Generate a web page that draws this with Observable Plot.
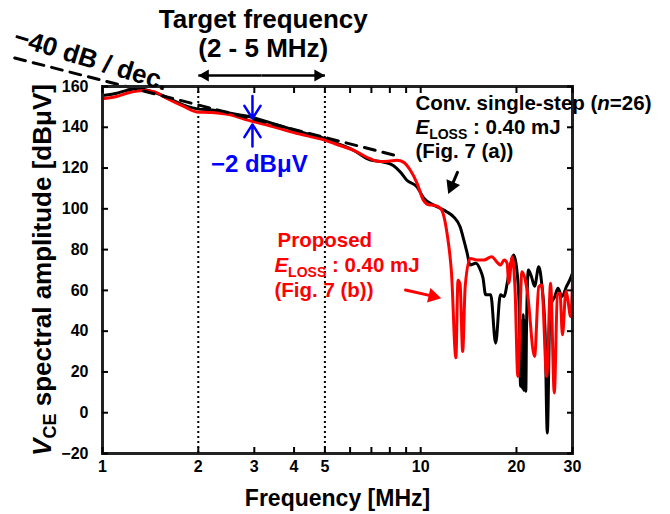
<!DOCTYPE html>
<html><head><meta charset="utf-8">
<script src="https://cdn.jsdelivr.net/npm/d3@7"></script>
<script src="https://cdn.jsdelivr.net/npm/@observablehq/plot@0.6"></script>
<style>
html,body{margin:0;padding:0;background:#fff;}
#chart{width:670px;height:514px;}
</style></head><body><div id="chart"></div>
<script>
// Conventional single-step (n=26), black
const conventionalFreq = [1.00,1.10,1.20,1.29,1.40,1.54,1.66,1.80,1.92,2.01,2.21,2.50,2.88,3.40,4.04,4.50,5.02,5.40,6.16,6.93,7.63,8.20,8.63,9.05,9.75,10.2,11.0,11.6,12.1,12.7,13.3,13.7,14.0,14.3,14.9,15.4,15.7,16.0,16.6,17.2,17.8,18.3,18.7,19.2,19.6,20.0,20.4,20.6,20.75,20.9,21.0,21.1,21.25,21.4,21.5,21.8,22.3,22.8,23.5,24.0,24.6,25.0,25.5,26.4,27.0,27.8,28.7,29.4,30.0];
const conventionalDb   = [155.6,156.6,158.2,158.9,158.0,155.6,153.3,150.8,149.5,148.9,148.5,147.0,145.3,142.0,138.5,136.4,134.4,132.4,128.7,124.0,123.0,121.3,118.1,114.0,110.7,105.5,101.8,100.0,98.5,96.0,91.2,84.0,78.2,72.4,73.3,70.0,66.0,57.8,57.8,34.1,57.8,57.0,63.5,73.3,77.3,71.6,52.0,13.0,45.0,12.0,48.0,11.0,45.0,10.5,40.0,70.0,66.7,62.0,71.6,63.5,40.0,-10.0,52.0,57.0,61.0,57.0,61.8,65.0,68.4];
// Proposed, red
const proposedFreq = [1.00,1.10,1.20,1.35,1.45,1.60,1.80,1.98,2.21,2.50,2.88,3.40,4.04,4.50,5.02,5.40,6.16,6.93,7.40,7.90,8.43,8.85,9.28,9.75,10.2,10.6,11.0,11.55,12.1,12.5,12.9,13.1,13.3,13.55,13.8,14.3,15.0,15.8,16.7,17.5,17.8,18.3,18.7,18.9,19.4,19.8,20.2,20.8,21.6,22.8,23.5,24.0,24.9,25.6,26.3,26.9,27.4,27.9,28.6,28.9,29.6,30.0];
const proposedDb   = [154.0,155.0,156.8,158.0,157.5,154.0,150.2,147.5,147.2,146.2,143.4,140.5,137.2,135.4,133.6,131.8,128.7,124.6,123.2,123.3,123.8,122.8,118.9,112.4,104.2,102.0,101.8,100.2,88.0,68.4,27.0,65.0,63.0,30.0,62.0,75.7,74.9,74.9,76.5,73.3,72.4,74.9,73.3,63.5,76.5,60.0,17.8,69.2,60.2,27.6,61.8,62.6,17.8,63.5,9.7,57.8,58.6,38.2,59.4,57.0,47.2,63.5];
// -40 dB/dec guide line (read endpoints)
const slopeFreq = [0.53, 8.5];
const slopeDb = [174.0, 125.8];
const targetBand = [2, 5];
const xTicks = [1,2,3,4,5,6,7,8,9,10,20,30];
const xTickLabels = [1,2,3,4,5,10,20,30];
const yTicks = [-20,0,20,40,60,80,100,120,140,160];

const conv = conventionalFreq.map((f,i)=>({f, v: conventionalDb[i]}));
const prop = proposedFreq.map((f,i)=>({f, v: proposedDb[i]}));
const slope = slopeFreq.map((f,i)=>({f, v: slopeDb[i]}));

const FONT = "'Liberation Sans', Arial, Helvetica, sans-serif";
const txt = (t, f, v, o={}) => Plot.text([t], {x: () => f, y: () => v, text: d => d, ...o});
const head = (f, v, rot, dx, dy, color, r=5) => Plot.dot([0], {x: () => f, y: () => v, symbol: "triangle", r, rotate: rot, dx, dy, fill: color, stroke: null});

const plot = Plot.plot({
  width: 670, height: 514,
  marginLeft: 102, marginRight: 98, marginTop: 86, marginBottom: 61,
  style: {fontFamily: FONT, fontWeight: "bold", fontSize: "16px", background: "#fff", color: "#000", overflow: "visible"},
  x: {type: "log", domain: [1, 30]},
  y: {domain: [-20, 160]},
  marks: [
    Plot.ruleX(targetBand, {stroke: "#000", strokeWidth: 2, strokeDasharray: "2,3"}),
    Plot.line(conv, {x: "f", y: "v", stroke: "#000", strokeWidth: 3, curve: "monotone-x"}),
    Plot.line(prop, {x: "f", y: "v", stroke: "#ff0000", strokeWidth: 3, curve: "monotone-x"}),
    Plot.line(slope, {x: "f", y: "v", stroke: "#000", strokeWidth: 3, strokeDasharray: "11,8"}),
    Plot.frame({stroke: "#222", strokeWidth: 3}),
    Plot.axisX({ticks: xTicks, tickFormat: d => xTickLabels.includes(d) ? String(d) : "", tickSize: -6, tickPadding: 13, label: null, strokeWidth: 2, fontSize: 16}),
    Plot.axisX({anchor: "top", ticks: xTicks, tickFormat: () => "", tickSize: -6, label: null, strokeWidth: 2}),
    Plot.axisY({ticks: yTicks, tickSize: -6, tickPadding: 20, label: null, strokeWidth: 2, fontSize: 16}),
    Plot.axisY({anchor: "right", ticks: yTicks, tickFormat: () => "", tickSize: -6, label: null, strokeWidth: 2}),
    // axis titles
    Plot.text(["VCE spectral amplitude [dBμV]"], {frameAnchor: "left", dx: -52, rotate: -90, lineAnchor: "bottom", textAnchor: "middle", fontSize: 26, fill: "#000"}),
    Plot.text(["Frequency [MHz]"], {frameAnchor: "bottom", dy: 52, lineAnchor: "bottom", textAnchor: "middle", fontSize: 23, fill: "#000"}),
    // target band annotation
    txt("Target frequency", 3.2, 188.9, {lineAnchor: "bottom", fontSize: 26, fill: "#000"}),
    txt("(2 - 5 MHz)", 3.2, 174.7, {lineAnchor: "bottom", fontSize: 26, fill: "#000"}),
    Plot.link(targetBand, {x1: () => Math.sqrt(10), y1: () => 165.4, x2: d => d, y2: () => 165.4, stroke: "#000", strokeWidth: 2.5}),
    head(2, 165.4, 270, 7, 0, "#000", 4.5),
    head(5, 165.4, 90, -7, 0, "#000", 4.5),
    // slope annotation
    txt("−40 dB / dec.", 0.92, 173.2, {lineAnchor: "middle", rotate: 17, fontSize: 26, fill: "#000"}),
    // -2 dBuV
    Plot.arrow([0], {x1: () => 2.96, y1: () => 175, x2: () => 2.96, y2: () => 144.3, insetStart: 40, stroke: "#0000ff", strokeWidth: 2.5, headLength: 9, headAngle: 65}),
    Plot.arrow([0], {x1: () => 2.96, y1: () => 111, x2: () => 2.96, y2: () => 141.4, insetStart: 40, stroke: "#0000ff", strokeWidth: 2.5, headLength: 9, headAngle: 65}),
    txt("−2 dBμV", 3.11, 117.9, {lineAnchor: "bottom", fontSize: 24, fill: "#0000ff"}),
    // conventional annotation
    txt("Conv. single-step (n=26)", 9.63, 148.3, {lineAnchor: "bottom", textAnchor: "start", fontSize: 20.5, fill: "#000"}),
    txt("ELOSS : 0.40 mJ#k", 9.63, 136.5, {lineAnchor: "bottom", textAnchor: "start", fontSize: 20.5, fill: "#000"}),
    txt("(Fig. 7 (a))", 9.63, 124.8, {lineAnchor: "bottom", textAnchor: "start", fontSize: 20.5, fill: "#000"}),
    Plot.arrow([0], {x1: () => 13.05, y1: () => 117.9, x2: () => 12.23, y2: () => 107.6, insetEnd: 7, headLength: 0, stroke: "#000", strokeWidth: 3}),
    head(12.23, 107.6, 203, 3.1, -7.2, "#000", 5.5),
    // proposed annotation
    txt("Proposed", 3.55, 81.2, {lineAnchor: "bottom", textAnchor: "start", fontSize: 20.5, fill: "#ff0000"}),
    txt("ELOSS : 0.40 mJ#r", 3.47, 69.0, {lineAnchor: "bottom", textAnchor: "start", fontSize: 20.5, fill: "#ff0000"}),
    txt("(Fig. 7 (b))", 3.47, 56.8, {lineAnchor: "bottom", textAnchor: "start", fontSize: 20.5, fill: "#ff0000"}),
    Plot.arrow([0], {x1: () => 8.96, y1: () => 60.2, x2: () => 11.54, y2: () => 56.3, insetEnd: 7, headLength: 0, stroke: "#ff0000", strokeWidth: 3}),
    head(11.54, 56.3, 103, -7.6, -1.7, "#ff0000", 5.5)
  ]
});

function rich(el, parts) {
  const s = d3.select(el);
  s.text(null);
  for (const [t, o] of parts) {
    const ts = s.append("tspan").text(t);
    if (o.italic) ts.attr("font-style", "italic");
    if (o.size) ts.attr("font-size", o.size);
    if (o.dy) ts.attr("dy", o.dy);
  }
}
d3.select(plot).selectAll("text").each(function() {
  const c = this.textContent;
  if (c.startsWith("ELOSS")) {
    rich(this, [["E", {italic: true}], ["LOSS", {size: 14, dy: 5}], [" : 0.40 mJ", {dy: -5}]]);
  } else if (c === "Conv. single-step (n=26)") {
    rich(this, [["Conv. single-step (", {}], ["n", {italic: true}], ["=26)", {}]]);
  } else if (c.startsWith("VCE")) {
    rich(this, [["V", {italic: true}], ["CE", {size: 18, dy: 5}], [" spectral amplitude [dBμV]", {dy: -5}]]);
  }
});
document.getElementById("chart").appendChild(plot);
</script>
</body></html>
